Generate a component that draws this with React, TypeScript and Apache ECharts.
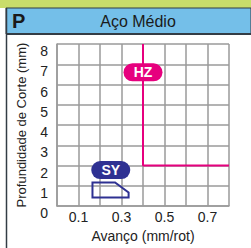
import React, { useEffect, useRef } from "react";
import * as echarts from "echarts";

const xTicks = [0, 0.1, 0.2, 0.3, 0.4, 0.5, 0.6, 0.7, 0.8];
const xLabelShown = ["0.1", "0.3", "0.5", "0.7"];
const yTicks = [0, 1, 2, 3, 4, 5, 6, 7, 8];
const hzBoundary: [number, number][] = [[0.4, 8], [0.4, 2], [0.8, 2]];
const syRegion: [number, number][] = [[0.165, 0.42], [0.165, 1.17], [0.27, 1.17], [0.333, 0.67], [0.333, 0.42]];
const badges = [
  { name: "HZ", x: 0.4, y: 6.6, color: "#e6007e" },
  { name: "SY", x: 0.25, y: 1.78, color: "#2e3192" },
];
const titleCode = "P";
const titleText = "Aço Médio";

const FONT = "Liberation Sans, Arial, sans-serif";

export default function App() {
  const ref = useRef<HTMLDivElement>(null);
  useEffect(() => {
    if (!ref.current) return;
    const chart = echarts.init(ref.current, null, { renderer: "svg" });
    chart.setOption({
      animation: false,
      backgroundColor: "#ffffff",
      textStyle: { fontFamily: FONT },
      grid: { left: 57, right: 22, top: 44, bottom: 33, containLabel: false },
      xAxis: {
        type: "value",
        min: xTicks[0],
        max: xTicks[xTicks.length - 1],
        interval: 0.1,
        name: "Avanço (mm/rot)",
        nameLocation: "middle",
        nameGap: 18,
        nameTextStyle: { fontSize: 14, color: "#222", fontFamily: FONT },
        axisLine: { show: true, lineStyle: { color: "#9a9a9a", width: 1.5 } },
        axisTick: { show: false },
        splitLine: { show: true, lineStyle: { color: "#9a9a9a", width: 1.5 } },
        axisLabel: {
          fontSize: 14,
          color: "#222",
          margin: 4,
          fontFamily: FONT,
          formatter: (v: number) => {
            const s = v.toFixed(1);
            return xLabelShown.includes(s) ? s : "";
          },
        },
      },
      yAxis: {
        type: "value",
        min: yTicks[0],
        max: yTicks[yTicks.length - 1],
        interval: 1,
        name: "Profundidade de Corte (mm)",
        nameLocation: "middle",
        nameGap: 29,
        nameTextStyle: { fontSize: 13, color: "#222", fontFamily: FONT },
        axisLine: { show: true, lineStyle: { color: "#9a9a9a", width: 1.5 } },
        axisTick: { show: false },
        splitLine: { show: true, lineStyle: { color: "#9a9a9a", width: 1.5 } },
        axisLabel: {
          fontSize: 14,
          color: "#222",
          margin: 9,
          verticalAlign: "top",
          fontFamily: FONT,
        },
      },
      graphic: [
        { type: "rect", shape: { x: 0, y: 0, width: 251, height: 8 }, style: { fill: "#c9dd6b" }, silent: true },
        { type: "rect", shape: { x: 6, y: 8, width: 245, height: 26 }, style: { fill: "#74bfe9", stroke: "#333c45", lineWidth: 1 }, silent: true },
        { type: "line", shape: { x1: 6, y1: 34, x2: 251, y2: 34 }, style: { stroke: "#333c45", lineWidth: 2 }, silent: true },
        { type: "line", shape: { x1: 6.5, y1: 8, x2: 6.5, y2: 248 }, style: { stroke: "#333c45", lineWidth: 1.5 }, silent: true },
        { type: "text", x: 12, y: 21, style: { text: titleCode, font: "bold 20px " + FONT, fill: "#1a1a1a", verticalAlign: "middle" }, silent: true },
        { type: "text", x: 138, y: 21, style: { text: titleText, font: "16px " + FONT, fill: "#1a1a1a", align: "center", verticalAlign: "middle" }, silent: true },
      ],
      series: [
        {
          type: "line",
          data: hzBoundary,
          symbol: "none",
          lineStyle: { color: "#e6007e", width: 2 },
          z: 3,
        },
        {
          type: "custom",
          coordinateSystem: "cartesian2d",
          data: [0],
          renderItem: (params: any, api: any) => {
            const pts = syRegion.map((p) => api.coord(p));
            return {
              type: "polygon",
              shape: { points: pts },
              style: { fill: "none", stroke: "#2e3192", lineWidth: 2 },
            };
          },
          z: 3,
        },
        {
          type: "custom",
          coordinateSystem: "cartesian2d",
          data: badges.map((b) => [b.x, b.y]),
          renderItem: (params: any, api: any) => {
            const b = badges[params.dataIndex];
            const c = api.coord([b.x, b.y]);
            const w = 39;
            const h = 18;
            return {
              type: "group",
              children: [
                {
                  type: "rect",
                  shape: { x: c[0] - w / 2, y: c[1] - h / 2, width: w, height: h, r: h / 2 },
                  style: { fill: b.color },
                },
                {
                  type: "text",
                  x: c[0],
                  y: c[1],
                  style: {
                    text: b.name,
                    font: "bold 14px " + FONT,
                    fill: "#ffffff",
                    align: "center",
                    verticalAlign: "middle",
                  },
                },
              ],
            };
          },
          z: 5,
        },
      ],
    });
    return () => chart.dispose();
  }, []);
  return (
    <div
      ref={ref}
      style={{ position: "fixed", left: 0, top: 0, width: 251, height: 248 }}
    />
  );
}
